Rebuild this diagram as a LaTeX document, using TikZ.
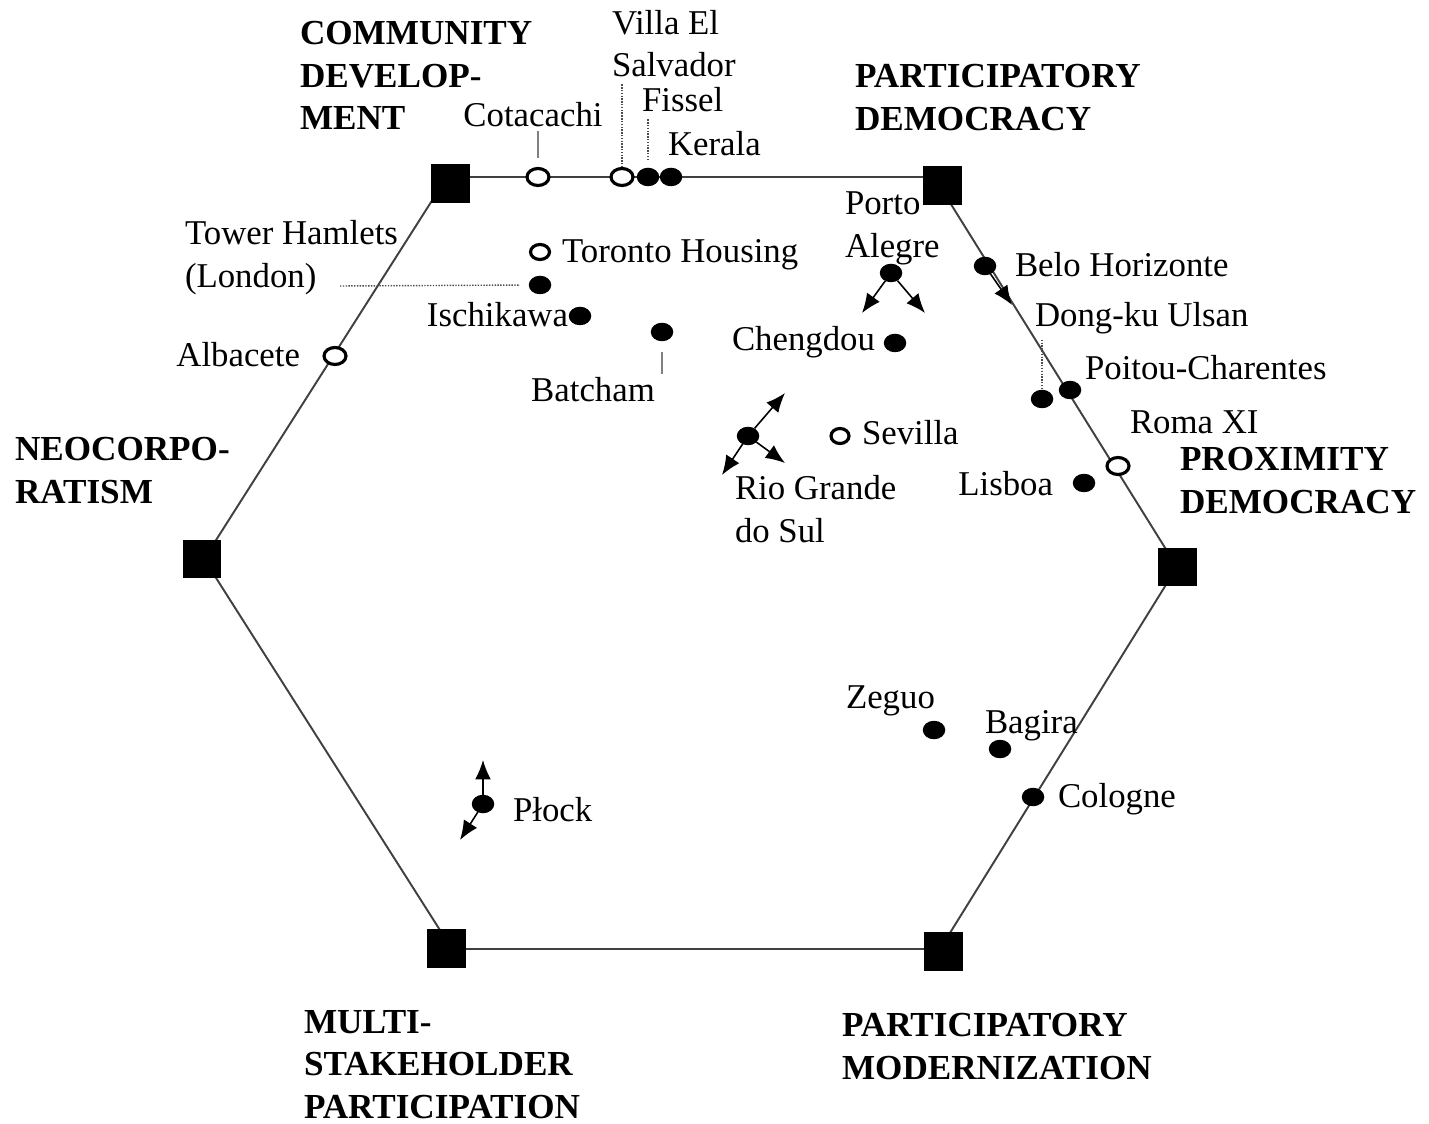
\documentclass[tikz,border=0pt]{standalone}
\usepackage{fontspec}
\setmainfont{Liberation Serif}
\usetikzlibrary{arrows.meta, shapes.geometric, positioning}

\begin{document}
\begin{tikzpicture}[x=0.02cm, y=-0.02cm, semithick]
    \tikzstyle{every node}=[font=\fontsize{19.8}{24.4}\selectfont, inner sep=0pt, outer sep=0pt]
    \tikzstyle{pole}=[shape=rectangle, fill=black, draw=none, minimum size=0.78cm]
    \tikzstyle{casefull}=[shape=ellipse, fill=black, draw=none, minimum width=0.45cm, minimum height=0.37cm]
    \tikzstyle{caseopen}=[shape=ellipse, fill=white, draw=black, line width=1.8pt, minimum width=0.44cm, minimum height=0.34cm]
    \tikzstyle{polelab}=[font=\fontsize{20}{24.4}\selectfont\bfseries, align=left, anchor=north west]
    \tikzstyle{lab}=[anchor=base west]
    \tikzstyle{lead}=[draw=gray, line width=0.7pt]
    \tikzstyle{leaddot}=[draw=black!70, line width=0.8pt, dash pattern=on 0.8pt off 0.8pt]
    \tikzstyle{move}=[-{Latex[length=11pt,width=9pt]}, line width=0.9pt]

    \useasboundingbox (0,0) rectangle (1429,1124);

    % hexagon
    \coordinate (v1) at (447,177);
    \coordinate (v2) at (934,177);
    \coordinate (v3) at (1177,567);
    \coordinate (v4) at (940,949);
    \coordinate (v5) at (452,949);
    \coordinate (v6) at (204,559);
    \draw[line width=1.1pt, black!75] (v1) -- (v2) -- (v3) -- (v4) -- (v5) -- (v6) -- cycle;

    \node[pole] (cd) at (450,184) {};
    \node[pole] (pd) at (942,186) {};
    \node[pole] (px) at (1177,567) {};
    \node[pole] (pm) at (943,951) {};
    \node[pole] (ms) at (446,948) {};
    \node[pole] (nc) at (202,559) {};

    \node[polelab] (lcd) at (300,21)   {COMMUNITY\\DEVELOP-\\MENT};
    \node[polelab] (lpd) at (855,64)   {PARTICIPATORY\\DEMOCRACY};
    \node[polelab] (lnc) at (15,437)   {NEOCORPO-\\RATISM};
    \node[polelab] (lpx) at (1180,447) {PROXIMITY\\DEMOCRACY};
    \node[polelab] (lms) at (304,1010) {MULTI-\\STAKEHOLDER\\PARTICIPATION};
    \node[polelab] (lpm) at (842,1013) {PARTICIPATORY\\MODERNIZATION};

    % cases
    \node[caseopen] (cota)    at (538,177)  {};
    \node[caseopen] (villa)   at (622,177)  {};
    \node[casefull] (fissel)  at (648,177)  {};
    \node[casefull] (kerala)  at (671,177)  {};
    \node[caseopen, minimum width=0.38cm, minimum height=0.3cm] (toronto) at (540,252) {};
    \node[casefull] (tower)   at (540,285)  {};
    \node[casefull] (ischi)   at (580,316)  {};
    \node[casefull] (batcham) at (662,332)  {};
    \node[caseopen] (alba)    at (335,356)  {};
    \node[casefull] (porto)   at (891,273)  {};
    \node[casefull] (cheng)   at (895,343)  {};
    \node[casefull] (belo)    at (985,266)  {};
    \node[casefull] (dong)    at (1042,399) {};
    \node[casefull] (poitou)  at (1070,390) {};
    \node[caseopen] (roma)    at (1118,466) {};
    \node[casefull] (lisboa)  at (1084,483) {};
    \node[caseopen, minimum width=0.36cm, minimum height=0.3cm] (sevilla) at (840,436) {};
    \node[casefull] (rio)     at (748,436)  {};
    \node[casefull] (zeguo)   at (934,730)  {};
    \node[casefull] (bagira)  at (1000,749) {};
    \node[casefull] (cologne) at (1033,797) {};
    \node[casefull] (plock)   at (483,804)  {};

    \node[anchor=base] (lcota) at (533,127) {Cotacachi};
    \node[align=left, anchor=north west] (lvilla) at (612,10) {Villa El\\Salvador};
    \node[lab] (lfissel)  at (642,112)  {Fissel};
    \node[lab] (lkerala)  at (668,156)  {Kerala};
    \node[lab] (ltoronto) at (562,263)  {Toronto Housing};
    \node[align=left, anchor=north west] (ltower) at (185,220) {Tower Hamlets\\(London)};
    \node[anchor=base east] (lischi) at (568,327) {Ischikawa};
    \node[anchor=base] (lbatcham) at (593,402) {Batcham};
    \node[anchor=base east] (lalba) at (300,367) {Albacete};
    \node[align=left, anchor=north west] (lporto) at (845,192) {Porto\\Alegre};
    \node[anchor=base east] (lcheng) at (875,351) {Chengdou};
    \node[lab] (lbelo)    at (1015,277) {Belo Horizonte};
    \node[lab] (ldong)    at (1035,327) {Dong-ku Ulsan};
    \node[lab] (lpoitou)  at (1085,380) {Poitou-Charentes};
    \node[lab] (lroma)    at (1130,434) {Roma XI};
    \node[anchor=base east] (llisboa) at (1053,496) {Lisboa};
    \node[lab] (lsevilla) at (862,445)  {Sevilla};
    \node[align=left, anchor=north west] (lrio) at (735,475) {Rio Grande\\do Sul};
    \node[lab] (lzeguo)   at (846,708)  {Zeguo};
    \node[lab] (lbagira)  at (985,733)  {Bagira};
    \node[lab] (lcologne) at (1058,807) {Cologne};
    \node[lab] (lplock)   at (513,821)  {Płock};

    % leaders
    \draw[lead, shorten <=2pt, shorten >=6pt] (lcota.south -| cota) -- (cota.north);
    \draw[leaddot, shorten <=4pt] (lvilla.south -| villa) -- (villa.north);
    \draw[leaddot, shorten <=4pt, shorten >=4pt] (lfissel.south -| fissel) -- (fissel.north);
    \coordinate (tlend) at (340,286);
    \draw[leaddot, shorten >=5pt] (tlend) -- (tower.west);
    \draw[lead, shorten <=6pt, shorten >=2pt] (batcham.south) -- (lbatcham.north -| batcham);
    \draw[leaddot, shorten <=3pt] (ldong.south -| dong) -- (dong.north);

    % movements
    \coordinate (pa1) at (862,313);
    \coordinate (pa2) at (925,313);
    \coordinate (bh1) at (1012,305);
    \coordinate (rg1) at (785,393);
    \coordinate (rg2) at (722,475);
    \coordinate (rg3) at (785,463);
    \coordinate (pl1) at (483,760);
    \coordinate (pl2) at (460,840);
    \path[move]
    (porto) edge (pa1)
            edge (pa2)
    (belo)  edge (bh1)
    (rio)   edge (rg1)
            edge (rg2)
            edge (rg3)
    (plock) edge (pl1)
            edge (pl2)
            ;

\end{tikzpicture}
\end{document}
